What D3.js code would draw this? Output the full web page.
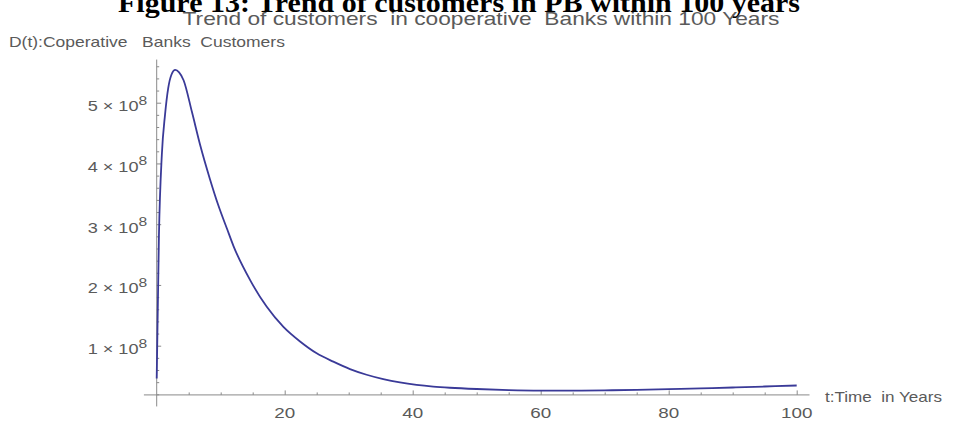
<!DOCTYPE html>
<html>
<head>
<meta charset="utf-8">
<script src="https://cdn.jsdelivr.net/npm/d3@7"></script>
<style>
  html, body { margin: 0; padding: 0; background: #fff; }
  svg { display: block; }
  text { white-space: pre; }
</style>
</head>
<body>
<svg id="chart" width="954" height="421"></svg>
<script>
// Years since start
const years = [0, 0.35, 0.8, 1.3, 1.8, 2.3, 2.9, 3.5, 4.2, 5.5, 6.8, 8.3, 9.6, 11, 12,
  14.6, 17.2, 19.8, 22.4, 25, 27.6, 30.2, 32.8, 35.4, 38, 40.6, 43.2, 45.8,
  50, 55, 60, 65, 70, 75, 80, 85, 90, 95, 100];
// D(t): cooperative bank customers, in units of 10^8
const customers = [0.46, 2.82, 4.14, 4.80, 5.24, 5.46, 5.54, 5.50, 5.37, 4.85, 4.30, 3.75, 3.32, 2.92, 2.64,
  2.08, 1.64, 1.31, 1.07, 0.875, 0.737, 0.615, 0.522, 0.450, 0.395, 0.355, 0.327, 0.308,
  0.287, 0.270, 0.262, 0.261, 0.265, 0.273, 0.285, 0.298, 0.312, 0.328, 0.345];

const xMajorTicks = [20, 40, 60, 80, 100];
const xMinorTicks = d3.range(5, 101, 5).filter(t => t % 20 !== 0);
const yMajorTicks = [1, 2, 3, 4, 5];
const yMinorTicks = d3.range(1, 29).map(i => +(i * 0.2).toFixed(1)).filter(v => Math.abs(v - Math.round(v)) > 1e-6);

const figureTitle = "Figure 13: Trend of customers in PB within 100 years";
const plotTitle = "Trend of customers  in cooperative  Banks within 100 Years";
const yLabel = "D(t):Coperative   Banks  Customers";
const xLabel = "t:Time  in Years";

const svg = d3.select("#chart");
const font = "'Liberation Sans', Arial, sans-serif";
const stretch = 1.3;   // the figure's lettering is set wide

const x = d3.scaleLinear().domain([0, 100]).range([156.7, 796.7]);
const y = d3.scaleLinear().domain([0, 5]).range([406.45, 102.7]);
const axisY = y(0.19);   // where the horizontal axis crosses
const axisColor = "#8a8a8a";
const labelColor = "#5a5a5a";

// Place a horizontally widened text at (px, py)
function wideText(parent, px, py, sx) {
  return parent.append("text")
    .attr("transform", `translate(${px},${py}) scale(${sx},1)`)
    .attr("font-family", font)
    .attr("fill", labelColor);
}

// Figure caption (bold serif, runs off the top edge)
svg.append("text")
  .attr("x", 118).attr("y", 12)
  .attr("textLength", 682).attr("lengthAdjust", "spacingAndGlyphs")
  .attr("font-family", "'Liberation Serif', 'DejaVu Serif', serif")
  .attr("font-weight", "bold").attr("font-size", 28)
  .attr("fill", "#000")
  .text(figureTitle);

// Plot title
wideText(svg, 481, 25, stretch)
  .attr("text-anchor", "middle").attr("font-size", 17.5)
  .text(plotTitle);

// Axis labels
wideText(svg, 9, 47, 1.25).attr("font-size", 14).text(yLabel);
wideText(svg, 825, 402, 1.22).attr("font-size", 14).text(xLabel);

// Horizontal axis
const xAxisG = svg.append("g").attr("transform", `translate(0,${axisY})`);
xAxisG.append("line")
  .attr("x1", x(-2)).attr("x2", x(102))
  .attr("stroke", axisColor).attr("stroke-width", 1);
xAxisG.append("g").call(d3.axisBottom(x).tickValues(xMinorTicks).tickSizeInner(-2.5).tickSizeOuter(0).tickFormat(""));
xAxisG.append("g").call(d3.axisBottom(x).tickValues(xMajorTicks).tickSizeInner(-4.5).tickSizeOuter(0).tickFormat(""));
xAxisG.selectAll(".domain").remove();
xAxisG.selectAll(".tick line").attr("stroke", axisColor);
xMajorTicks.forEach(t => {
  wideText(svg, x(t), 418, stretch)
    .attr("text-anchor", "middle").attr("font-size", 14.5)
    .text(t);
});

// Vertical axis
const yAxisG = svg.append("g").attr("transform", `translate(${x(0)},0)`);
yAxisG.append("line")
  .attr("y1", y(5.71)).attr("y2", y(0))
  .attr("stroke", axisColor).attr("stroke-width", 1);
yAxisG.append("g").call(d3.axisLeft(y).tickValues(yMinorTicks).tickSizeInner(-2.5).tickSizeOuter(0).tickFormat(""));
yAxisG.append("g").call(d3.axisLeft(y).tickValues(yMajorTicks).tickSizeInner(-4.5).tickSizeOuter(0).tickFormat(""));
yAxisG.selectAll(".domain").remove();
yAxisG.selectAll(".tick line").attr("stroke", axisColor);

// Tick labels of the form  n × 10^8
yMajorTicks.forEach(v => {
  const t = wideText(svg, x(0) - 9.5, y(v) + 8.5, 1.25)
    .attr("text-anchor", "end")
    .attr("font-size", 14.5);
  t.append("tspan").text(`${v} × 10`);
  t.append("tspan").attr("dy", -6.5).attr("font-size", 12.5).text("8");
});

// Customer curve
const line = d3.line()
  .x((d, i) => x(years[i]))
  .y(d => y(d))
  .curve(d3.curveMonotoneX);

svg.append("path")
  .datum(customers)
  .attr("d", line)
  .attr("fill", "none")
  .attr("stroke", "#3a3a98")
  .attr("stroke-width", 1.8)
  .attr("stroke-linejoin", "round");
</script>
</body>
</html>
